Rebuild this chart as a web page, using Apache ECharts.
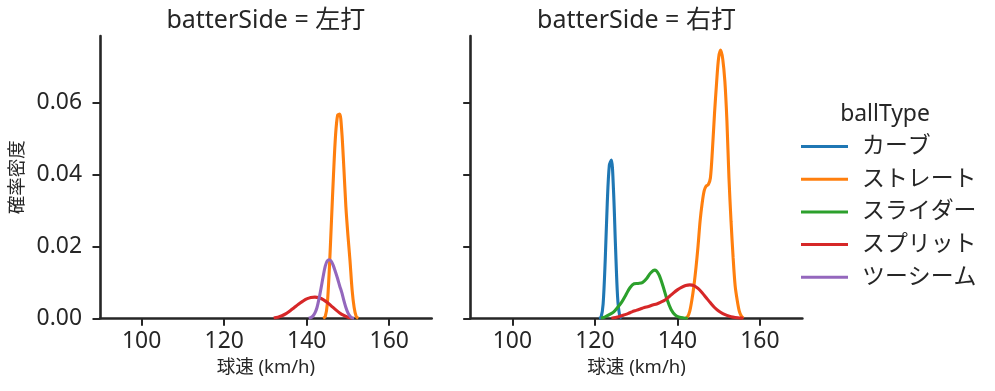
<!DOCTYPE html>
<html><head><meta charset="utf-8">
<script src="https://cdn.jsdelivr.net/npm/echarts@6/dist/echarts.min.js"></script>
<style>html,body{margin:0;padding:0;background:#fff}#c{width:995px;height:391px}</style>
</head><body><div id="c"></div>
<script>
const FONT = '"Noto Sans", "Noto Sans CJK JP", sans-serif';
const ballTypes = ['カーブ','ストレート','スライダー','スプリット','ツーシーム'];
const colors = ['#1f77b4','#ff7f0e','#2ca02c','#d62728','#9467bd'];
const panelTitles = ['batterSide = 左打','batterSide = 右打'];
const xTicks = [100,120,140,160];
const yTicks = [0,0.02,0.04,0.06];

// 左打 panel
const L_straight = [[144.0,0],[144.5,0.0005],[145.0,0.004],[145.5,0.014],[146.0,0.027],[146.5,0.040],[147.0,0.051],[147.5,0.0565],[148.0,0.0568],[148.5,0.052],[149.0,0.042],[149.5,0.031],[150.0,0.023],[150.5,0.016],[151.0,0.008],[151.5,0.003],[152.0,0.0005],[152.5,0]];
const L_twoseam = [[140.5,0],[141.0,0.0002],[141.5,0.0006],[142.0,0.0015],[142.5,0.003],[143.0,0.0055],[143.5,0.0085],[144.0,0.0117],[144.5,0.0145],[145.0,0.016],[145.5,0.0163],[146.0,0.0158],[146.5,0.0145],[147.0,0.0128],[147.5,0.011],[148.0,0.009],[148.5,0.0072],[149.0,0.005],[149.5,0.003],[150.0,0.0015],[150.5,0.0006],[151.0,0.0001],[151.5,0]];
const L_split = [[132,0.0001],[133,0.0003],[134,0.0007],[135,0.0013],[136,0.0021],[137,0.003],[138,0.0039],[139,0.0047],[140,0.0054],[141,0.0058],[142,0.0059],[143,0.0057],[144,0.0052],[145,0.0044],[146,0.0034],[147,0.0024],[148,0.0015],[149,0.0008],[150,0.0003],[151,0.0001]];

// 右打 panel
const R_curve = [[121.0,0],[121.5,0.0003],[122.0,0.004],[122.5,0.016],[123.0,0.032],[123.5,0.0425],[124.0,0.044],[124.5,0.036],[125.0,0.020],[125.5,0.006],[126.0,0.0008],[126.5,0]];
const R_straight = [[142.0,0],[142.5,0.0005],[143.0,0.002],[143.5,0.005],[144.0,0.009],[144.5,0.014],[145.0,0.020],[145.5,0.027],[146.0,0.032],[146.5,0.0355],[147.0,0.0368],[147.5,0.0372],[148.0,0.039],[148.5,0.047],[149.0,0.057],[149.5,0.0655],[150.0,0.0725],[150.5,0.0746],[151.0,0.072],[151.5,0.066],[152.0,0.055],[152.5,0.039],[153.0,0.027],[153.5,0.017],[154.0,0.009],[154.5,0.005],[155.0,0.002],[155.5,0.0006],[156.0,0]];
const R_slider = [[121.5,0],[122.5,0.0004],[123.5,0.001],[124.5,0.0017],[125.5,0.003],[126.5,0.0045],[127.5,0.0065],[128.5,0.0085],[129.5,0.0096],[130.5,0.0097],[131.5,0.0099],[132.5,0.011],[133.5,0.0126],[134.5,0.0134],[135.5,0.0122],[136.5,0.009],[137.5,0.0052],[138.5,0.0024],[139.5,0.0009],[140.5,0.0003],[141.5,0.0001],[142.5,0]];
const R_split = [[124,0],[125,0.0002],[126,0.0005],[127,0.0009],[128,0.0013],[129,0.0018],[130,0.0022],[131,0.0026],[132,0.0030],[133,0.0033],[134,0.0037],[135,0.0040],[136,0.0045],[137,0.0051],[138,0.0060],[139,0.0070],[140,0.0079],[141,0.0086],[142,0.0091],[143,0.0093],[144,0.0091],[145,0.0083],[146,0.0071],[147,0.0057],[148,0.0043],[149,0.0030],[150,0.0020],[151,0.0013],[152,0.0008],[153,0.0004],[154,0.0002],[155,0.0001],[156,0]];

const AX = '#262626';
const grids = [
  {left:100, top:36, width:331.7, height:282.3},
  {left:470.7, top:36, width:331.7, height:282.3}
];
function xAxis(i){
  return {type:'value', gridIndex:i, min:89.9, max:170.3,
    name: '球速 (km/h)', nameLocation:'middle', nameGap:40,
    nameTextStyle:{fontFamily:FONT, fontSize:18.5, color:AX},
    axisLine:{onZero:false, lineStyle:{color:AX, width:2.6}},
    axisTick:{customValues:xTicks, length:7.5, lineStyle:{color:AX, width:2}},
    axisLabel:{customValues:xTicks, margin:12, fontFamily:FONT, fontSize:22.9, color:AX},
    splitLine:{show:false}};
}
function yAxis(i){
  return {type:'value', gridIndex:i, min:0, max:0.0785,
    name: i===0 ? '確率密度' : '', nameLocation:'middle', nameGap:73, nameRotate:90,
    nameTextStyle:{fontFamily:FONT, fontSize:18.5, color:AX},
    axisLine:{show:true, onZero:false, lineStyle:{color:AX, width:2.6}},
    axisTick:{show:true, customValues:yTicks, length:7.5, lineStyle:{color:AX, width:2}},
    axisLabel:{show:i===0, customValues:yTicks, margin:18, fontFamily:FONT, fontSize:22.9, color:AX,
      formatter:v=>v.toFixed(2)},
    splitLine:{show:false}};
}
function line(name, data, gi){
  const c = colors[ballTypes.indexOf(name)];
  return {type:'line', name, data, xAxisIndex:gi, yAxisIndex:gi, showSymbol:false, symbol:'none',
    smooth:0.3, color:c, lineStyle:{color:c, width:3.1}, z: 2, silent:true, animation:false};
}
const option = {
  animation:false,
  grid: grids,
  xAxis:[xAxis(0), xAxis(1)],
  yAxis:[yAxis(0), yAxis(1)],
  legend:{data:ballTypes, orient:'vertical', left:796, top:129.5, icon:'rect', itemWidth:47, itemHeight:3,
    itemGap:8.7, textStyle:{fontFamily:FONT, fontSize:22.9, color:AX, lineHeight:24, padding:[0,0,0,9]}},
  graphic:[
    {type:'text', x:265.8, y:21, style:{text:panelTitles[0], align:'center', verticalAlign:'middle', font:'25px '+FONT, fill:AX}},
    {type:'text', x:636.5, y:21, style:{text:panelTitles[1], align:'center', verticalAlign:'middle', font:'25px '+FONT, fill:AX}},
    {type:'text', x:885, y:114, style:{text:'ballType', align:'center', verticalAlign:'middle', font:'22.9px '+FONT, fill:AX}}
  ],
  series:[
    line('ストレート', L_straight, 0),
    line('スプリット', L_split, 0),
    line('ツーシーム', L_twoseam, 0),
    line('カーブ', R_curve, 1),
    line('ストレート', R_straight, 1),
    line('スライダー', R_slider, 1),
    line('スプリット', R_split, 1)
  ]
};
const chart = echarts.init(document.getElementById('c'), null, {renderer:'canvas'});
chart.setOption(option);
</script></body></html>
